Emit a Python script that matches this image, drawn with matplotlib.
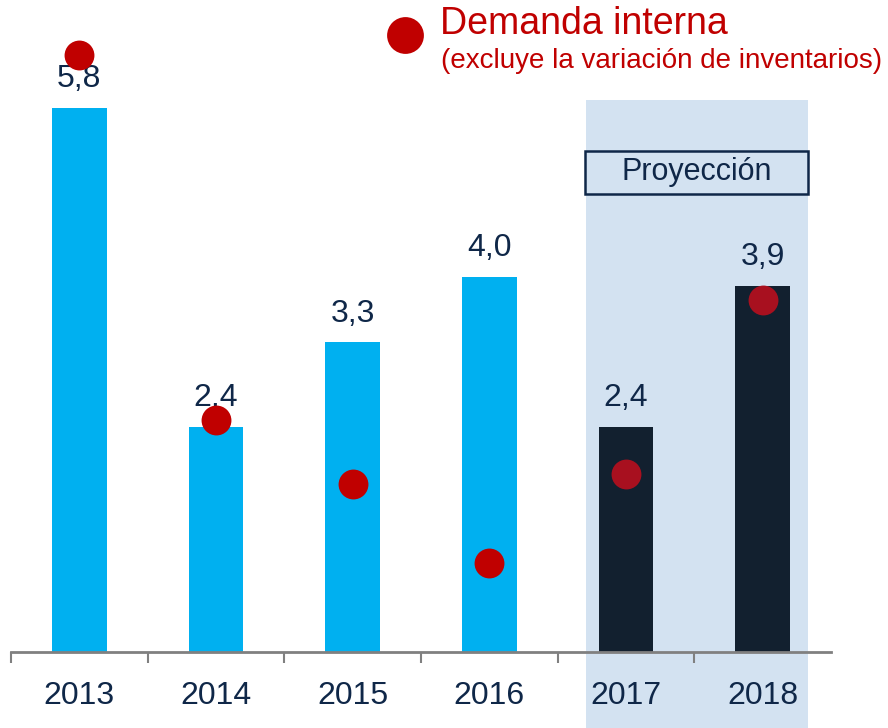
import matplotlib.pyplot as plt
from matplotlib.patches import Rectangle

plt.rcParams['font.family'] = ['Liberation Sans', 'DejaVu Sans']

years = ['2013', '2014', '2015', '2016', '2017', '2018']
pib = [5.8, 2.4, 3.3, 4.0, 2.4, 3.9]          # bar labels / heights
pib_labels = ['5,8', '2,4', '3,3', '4,0', '2,4', '3,9']
demanda = [6.36, 2.47, 1.79, 0.95, 1.90, 3.75]  # red dots
proyeccion = [False, False, False, False, True, True]

navy = '#0F2748'
red = '#C00000'

fig = plt.figure(figsize=(8.88, 7.28), dpi=100)
ax = fig.add_axes([11/888, 76/728, 820/888, 652/728])
ax.set_xlim(-0.5, 5.5)
ax.set_ylim(0, 6.95)
ax.patch.set_visible(False)

# shaded projection area
ax.add_patch(Rectangle((3.707, -0.81), 1.623, 6.695, facecolor='#D3E2F1',
                       edgecolor='none', zorder=0, clip_on=False))

x = list(range(len(years)))
colors = ['#12202F' if p else '#00B0F0' for p in proyeccion]
ax.bar(x, pib, width=0.4, color=colors, zorder=2)

for xi, v, lab in zip(x, pib, pib_labels):
    ax.annotate(lab, (xi, v), xytext=(0, 10), textcoords='offset points',
                ha='center', va='bottom', fontsize=23, color=navy, zorder=3)

for xi, d, p in zip(x, demanda, proyeccion):
    ax.plot(xi, d, 'o', ms=21.5, color='#A8101F' if p else red,
            mec='none', zorder=4, clip_on=False)

# axis
for s in ['top', 'right', 'left']:
    ax.spines[s].set_visible(False)
ax.spines['bottom'].set_color('#808080')
ax.spines['bottom'].set_linewidth(2)
ax.set_yticks([])
ax.set_xticks(x)
ax.set_xticklabels(years, fontsize=23, color=navy)
ax.tick_params(axis='x', which='major', length=0, pad=21)
ax.set_xticks([-0.5, 0.5, 1.5, 2.5, 3.5, 4.5], minor=True)
ax.tick_params(axis='x', which='minor', length=8, width=1.5, color='#808080',
               direction='out')

# Proyeccion box
fig.text(697/888, 1 - 172/728, 'Proyección', ha='center', va='center',
         fontsize=22, color=navy)
fig.add_artist(Rectangle((585/888, 1 - 194/728), 223/888, 43/728,
                         transform=fig.transFigure, facecolor='none',
                         edgecolor=navy, linewidth=1.8))

# legend
fig.lines.append(plt.Line2D([405/888], [1 - 35/728], marker='o', ms=26.5,
                            color=red, mec='none', transform=fig.transFigure))
fig.text(440/888, 1 - 24/728, 'Demanda interna', ha='left', va='center',
         fontsize=27, color=red)
fig.text(441/888, 1 - 61/728, '(excluye la variación de inventarios)',
         ha='left', va='center', fontsize=20, color=red)

fig.savefig('out.png', dpi=100)
